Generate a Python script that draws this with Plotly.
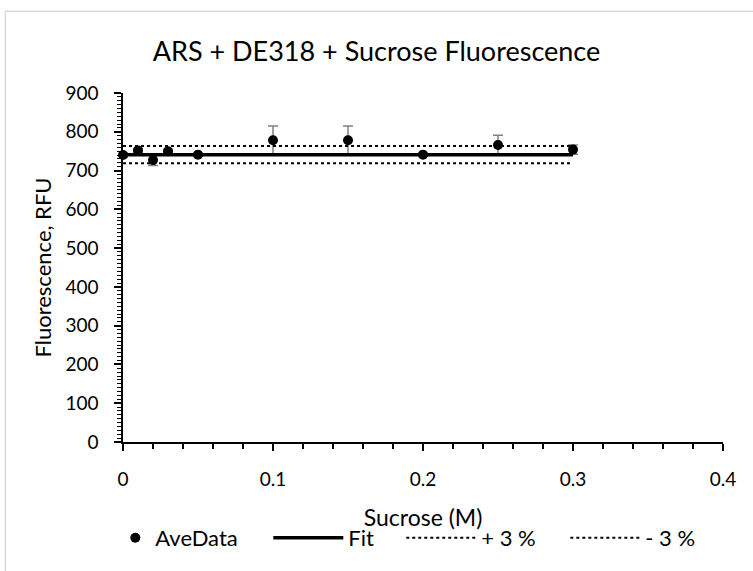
import plotly.graph_objects as go

# Sucrose titration of ARS + DE318: mean fluorescence with SD
sucrose = [0, 0.01, 0.02, 0.03, 0.05, 0.1, 0.15, 0.2, 0.25, 0.3]
ave_rfu = [740, 752, 727, 750, 741, 778, 778, 741, 766, 754]
sd_rfu = [6, 5, 14, 4, 3, 37, 37, 3, 25, 12]

# Constant fit and +/- 3 % band
fit_x = [0, 0.3]
fit_level = 741
plus_level = fit_level * 1.03
minus_level = fit_level * 0.97

FONT = "Lato"

fig = go.Figure()

fig.add_trace(go.Scatter(
    x=sucrose, y=ave_rfu, mode="markers", name="AveData", legend="legend",
    marker=dict(color="black", size=10),
    error_y=dict(type="data", array=sd_rfu, visible=True,
                 color="#808080", thickness=1.5, width=5),
    cliponaxis=False,
))
fig.add_trace(go.Scatter(
    x=fit_x, y=[fit_level, fit_level], mode="lines", name="Fit", legend="legend2",
    line=dict(color="black", width=3.5),
))
fig.add_trace(go.Scatter(
    x=fit_x, y=[plus_level, plus_level], mode="lines", name="+ 3 %", legend="legend3",
    line=dict(color="black", width=2, dash="dot"),
))
fig.add_trace(go.Scatter(
    x=fit_x, y=[minus_level, minus_level], mode="lines", name="- 3 %", legend="legend4",
    line=dict(color="black", width=2, dash="dot"),
))

axis_common = dict(
    showgrid=False, zeroline=False, showline=True, linecolor="black",
    linewidth=1.5, ticks="outside", ticklen=7, tickwidth=1.5,
    tickcolor="black", tickfont=dict(family=FONT, size=19, color="black"),
)

fig.update_xaxes(
    range=[0, 0.4], dtick=0.1, tick0=0, ticklabelstandoff=12,
    title=dict(text="Sucrose (M)", font=dict(family=FONT, size=23, color="black"),
               standoff=21),
    minor=dict(dtick=0.02, ticks="outside", ticklen=5, tickwidth=1.5,
               tickcolor="black"),
    **axis_common,
)
fig.update_yaxes(
    range=[0, 900], dtick=100, tick0=0, ticklabelstandoff=12,
    title=dict(text="Fluorescence, RFU", font=dict(family=FONT, size=22, color="black"),
               standoff=8),
    minor=dict(dtick=10, ticks="outside", ticklen=4, tickwidth=1.2,
               tickcolor="black"),
    **axis_common,
)

# Light chart-area frame along the top and left edges
fig.add_shape(
    type="path", xref="paper", yref="paper",
    path="M -0.196,-0.5 L -0.196,1.234 L 1.2,1.234",
    line=dict(color="#d9d9d9", width=1.5),
)

legend_common = dict(orientation="h", xanchor="left", y=-0.215, yanchor="top",
                     font=dict(family=FONT, size=22, color="black"),
                     bgcolor="rgba(0,0,0,0)")

fig.update_layout(
    width=753, height=571,
    margin=dict(l=123, r=30, t=93, b=125),
    paper_bgcolor="white", plot_bgcolor="white",
    title=dict(text="ARS + DE318 + Sucrose Fluorescence",
               font=dict(family=FONT, size=27, color="black"),
               x=0.5, xanchor="center", y=0.909, yanchor="middle"),
    showlegend=True,
    legend=dict(x=-0.0128, **legend_common),
    legend2=dict(x=0.2422, itemwidth=70, **legend_common),
    legend3=dict(x=0.4638, itemwidth=70, **legend_common),
    legend4=dict(x=0.7372, itemwidth=70, **legend_common),
    font=dict(family=FONT),
)

fig.write_html("out.html")
